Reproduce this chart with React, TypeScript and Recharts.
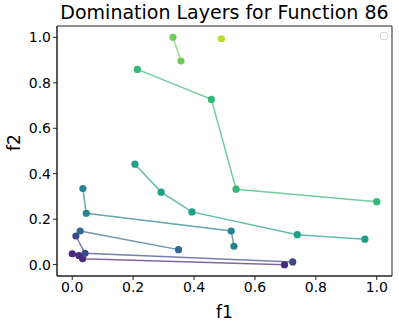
import { ScatterChart, Scatter, XAxis, YAxis, ReferenceArea } from "recharts";

// domination layers, each point is (f1, f2)
const layer0F1 = [0.0, 0.022, 0.034, 0.697];
const layer0F2 = [0.048, 0.04, 0.026, 0.0];
const layer1F1 = [0.012, 0.042, 0.724];
const layer1F2 = [0.126, 0.05, 0.012];
const layer2F1 = [0.026, 0.349];
const layer2F2 = [0.148, 0.066];
const layer3F1 = [0.035, 0.046, 0.522, 0.531];
const layer3F2 = [0.335, 0.226, 0.148, 0.081];
const layer4F1 = [0.206, 0.292, 0.393, 0.739, 0.961];
const layer4F2 = [0.442, 0.319, 0.232, 0.132, 0.112];
const layer5F1 = [0.214, 0.457, 0.538, 1.0];
const layer5F2 = [0.859, 0.727, 0.332, 0.277];
const layer6F1 = [0.331, 0.357];
const layer6F2 = [1.0, 0.896];
const layer7F1 = [0.49];
const layer7F2 = [0.994];

const LAYER_COLORS = ["#482878", "#3e4989", "#31688e", "#26828e", "#1f9e89", "#35b779", "#6ece58", "#b5de2b"];
const TICKS = [0, 0.2, 0.4, 0.6, 0.8, 1.0];

const zip = (a: number[], b: number[]) => a.map((f1, i) => ({ f1, f2: b[i] }));

const layers = [
  zip(layer0F1, layer0F2),
  zip(layer1F1, layer1F2),
  zip(layer2F1, layer2F2),
  zip(layer3F1, layer3F2),
  zip(layer4F1, layer4F2),
  zip(layer5F1, layer5F2),
  zip(layer6F1, layer6F2),
  zip(layer7F1, layer7F2),
];

const font = "'DejaVu Sans', sans-serif";

const Dot = (props: any) => {
  const { cx, cy, fill } = props;
  return <circle cx={cx} cy={cy} r={3.6} fill={fill} />;
};

export default function App() {
  return (
    <div style={{ position: "absolute", left: 0, top: 0, width: 399, height: 324, background: "#fff", fontFamily: font }}>
      <div style={{ position: "absolute", left: 57, width: 335, top: 1, textAlign: "center", fontSize: 19, lineHeight: "23px", color: "#000" }}>
        Domination Layers for Function 86
      </div>
      <ScatterChart width={399} height={324} margin={{ top: 26, right: 7, bottom: 0, left: 0 }}>
        <XAxis
          type="number"
          dataKey="f1"
          domain={[-0.05, 1.05]}
          ticks={TICKS}
          tickFormatter={(v: number) => v.toFixed(1)}
          height={48}
          stroke="#222"
          tickSize={4}
          tick={{ fill: "#000", fontSize: 14, fontFamily: font }}
          label={{ value: "f1", position: "insideBottom", offset: 6, fill: "#000", fontSize: 17, fontFamily: font }}
        />
        <YAxis
          type="number"
          dataKey="f2"
          domain={[-0.05, 1.05]}
          ticks={TICKS}
          tickFormatter={(v: number) => v.toFixed(1)}
          width={57}
          stroke="#222"
          tickSize={4}
          tick={{ fill: "#000", fontSize: 14, fontFamily: font }}
          label={{ value: "f2", angle: -90, position: "insideLeft", offset: 14, fill: "#000", fontSize: 17, fontFamily: font }}
        />
        <ReferenceArea x1={-0.05} x2={1.05} y1={-0.05} y2={1.05} fill="none" stroke="#222" strokeWidth={1} />
        {layers.map((data, i) => (
          <Scatter
            key={i}
            data={data}
            fill={LAYER_COLORS[i]}
            line={{ stroke: LAYER_COLORS[i], strokeWidth: 1.5, strokeOpacity: 0.7 }}
            shape={<Dot />}
            isAnimationActive={false}
          />
        ))}
      </ScatterChart>
      <div style={{ position: "absolute", left: 380, top: 32, width: 6, height: 6, border: "1px solid #d6d6d6", borderRadius: 2, background: "#fff" }} />
    </div>
  );
}
